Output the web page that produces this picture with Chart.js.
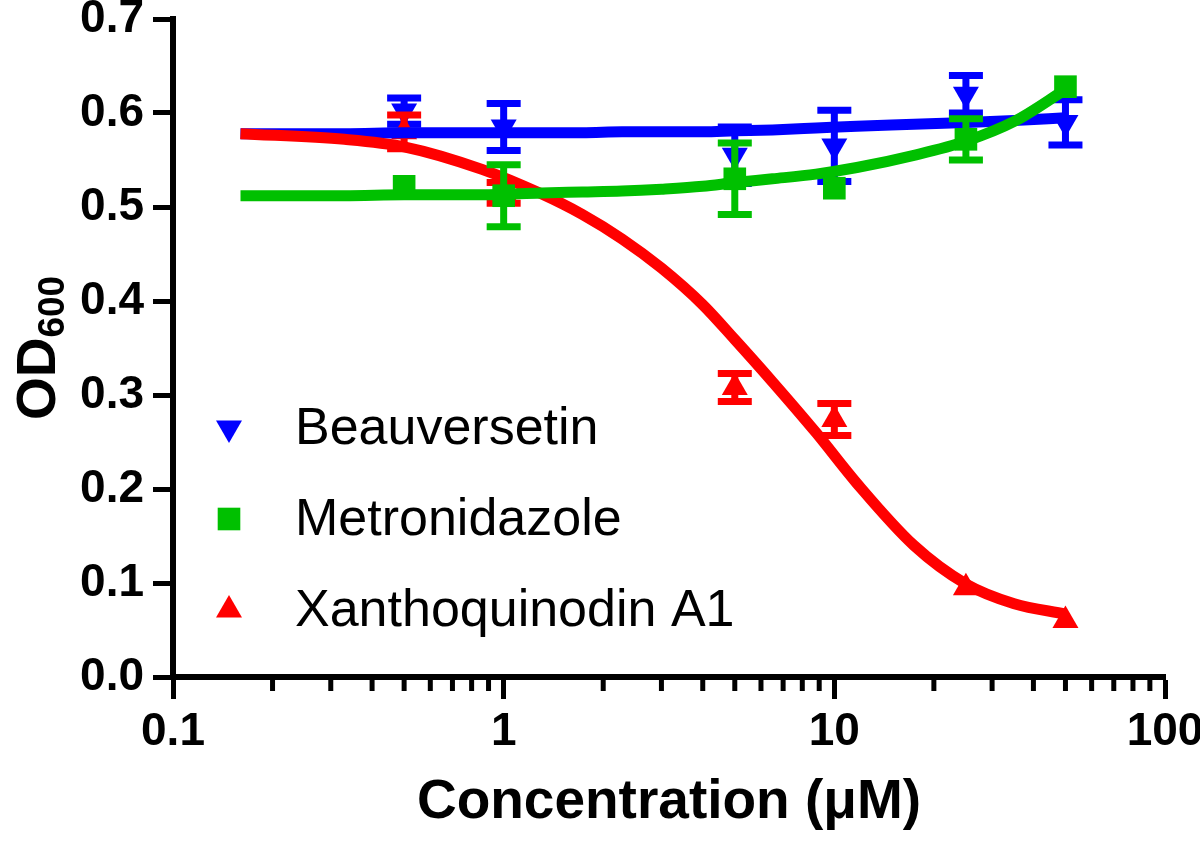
<!DOCTYPE html>
<html>
<head>
<meta charset="utf-8">
<script src="https://cdn.jsdelivr.net/npm/chart.js@4.4.0/dist/chart.umd.min.js"></script>
<style>
  html, body { margin: 0; padding: 0; background: #fff; }
  #wrap { width: 1200px; height: 841px; }
</style>
</head>
<body>
<div id="wrap"><canvas id="odChart"></canvas></div>
<script>
const concentrations = [0.5, 1, 5, 10, 25, 50];

const beauversetin = [0.602, 0.585, 0.555, 0.565, 0.62, 0.59];
const beauversetinErr = [0.014, 0.025, 0.03, 0.038, 0.02, 0.024];
const metronidazole = [0.522, 0.512, 0.53, 0.52, 0.572, 0.628];
const metronidazoleErr = [0, 0.033, 0.038, 0, 0.022, 0];
const xanthoquinodin = [0.58, 0.515, 0.308, 0.274, 0.095, 0.06];
const xanthoquinodinErr = [0.018, 0.011, 0.015, 0.017, 0, 0];

// fitted curves
const fitConc = [0.16, 0.33, 0.5, 0.86, 1.3, 1.73, 2.28, 3.0, 4.0, 5.0, 6.5, 8.8, 11.7, 17.4, 25, 35, 50];
const beauFit = [0.578, 0.578, 0.579, 0.579, 0.579, 0.579, 0.58, 0.58, 0.58, 0.581, 0.582, 0.584, 0.586, 0.588, 0.59, 0.592, 0.595];
const metroFit = [0.512, 0.512, 0.513, 0.513, 0.515, 0.516, 0.517, 0.519, 0.522, 0.526, 0.53, 0.535, 0.542, 0.555, 0.57, 0.591, 0.625];
const xanthoFit = [0.578, 0.572, 0.564, 0.54, 0.514, 0.492, 0.466, 0.435, 0.396, 0.359, 0.314, 0.26, 0.206, 0.14, 0.099, 0.078, 0.067];

const seriesNames = ['Beauversetin', 'Metronidazole', 'Xanthoquinodin A1'];
const seriesColors = ['#0000ff', '#00c000', '#ff0000'];
const xMajorTicks = [0.1, 1, 10, 100];

const FONT = "'Liberation Sans', Arial, sans-serif";
Chart.defaults.font.family = FONT;
Chart.defaults.color = '#000';

function pts(xs, ys) {
  return xs.map((x, i) => ({ x: x, y: ys[i] }));
}

const markers = [
  { style: 'triangle', rotation: 180, radius: 15 },
  { style: 'rect', rotation: 0, radius: 16 },
  { style: 'triangle', rotation: 0, radius: 15 }
];

// error bars, drawn just before their points
const errorBars = {
  id: 'errorBars',
  beforeDatasetDraw(chart, args) {
    const ds = chart.data.datasets[args.index];
    if (!ds.errors) return;
    const { ctx, scales: { x, y } } = chart;
    ctx.save();
    ctx.strokeStyle = ds.backgroundColor;
    ctx.lineWidth = 7;
    ds.data.forEach((p, i) => {
      const e = ds.errors[i];
      if (!e) return;
      const px = x.getPixelForValue(p.x);
      const top = y.getPixelForValue(p.y + e);
      const bot = y.getPixelForValue(p.y - e);
      ctx.beginPath();
      ctx.moveTo(px, top); ctx.lineTo(px, bot);
      ctx.moveTo(px - 17, top); ctx.lineTo(px + 17, top);
      ctx.moveTo(px - 17, bot); ctx.lineTo(px + 17, bot);
      ctx.stroke();
    });
    ctx.restore();
  }
};

// short ticks between the decades
const minorTicks = {
  id: 'minorTicks',
  afterDraw(chart) {
    const { ctx, scales: { x }, chartArea } = chart;
    ctx.save();
    ctx.strokeStyle = '#000';
    ctx.lineWidth = 5;
    for (let d = 0; d < xMajorTicks.length - 1; d++) {
      for (let m = 2; m <= 9; m++) {
        const px = x.getPixelForValue(xMajorTicks[d] * m);
        ctx.beginPath();
        ctx.moveTo(px, chartArea.bottom);
        ctx.lineTo(px, chartArea.bottom + 14);
        ctx.stroke();
      }
    }
    ctx.restore();
  }
};

// y title with subscript
const yTitle = {
  id: 'yTitle',
  afterDraw(chart) {
    const { ctx, chartArea } = chart;
    const main = 'OD', sub = '600';
    ctx.save();
    ctx.fillStyle = '#000';
    ctx.textBaseline = 'alphabetic';
    ctx.font = 'bold 55px ' + FONT;
    const w1 = ctx.measureText(main).width;
    ctx.font = 'bold 37px ' + FONT;
    const w2 = ctx.measureText(sub).width;
    const cy = (chartArea.top + chartArea.bottom) / 2;
    ctx.translate(55, cy);
    ctx.rotate(-Math.PI / 2);
    const start = -(w1 + w2) / 2;
    ctx.font = 'bold 55px ' + FONT;
    ctx.fillText(main, start, 0);
    ctx.font = 'bold 37px ' + FONT;
    ctx.fillText(sub, start + w1, 9);
    ctx.restore();
  }
};

const legendBox = {
  id: 'legendBox',
  afterDraw(chart) {
    const { ctx } = chart;
    ctx.save();
    seriesNames.forEach((name, i) => {
      const y = 428 + i * 91;
      ctx.fillStyle = seriesColors[i];
      Chart.helpers.drawPoint(ctx, {
        pointStyle: markers[i].style,
        rotation: markers[i].rotation,
        radius: markers[i].radius,
        borderWidth: 0
      }, 229, y);
      ctx.fillStyle = '#000';
      ctx.font = '52px ' + FONT;
      ctx.textBaseline = 'middle';
      ctx.fillText(name, 295, y + 2);
    });
    ctx.restore();
  }
};

function curve(data, color, order) {
  return {
    data: data, showLine: true, pointRadius: 0, borderColor: color,
    borderWidth: 11, cubicInterpolationMode: 'monotone', order: order
  };
}

function points(data, errors, i, order) {
  return {
    data: data, errors: errors, showLine: false,
    backgroundColor: seriesColors[i], borderWidth: 0,
    pointStyle: markers[i].style, rotation: markers[i].rotation,
    pointRadius: markers[i].radius, order: order
  };
}

const datasets = [
  points(pts(concentrations, metronidazole), metronidazoleErr, 1, 1),
  curve(pts(fitConc, metroFit), seriesColors[1], 2),
  curve(pts(fitConc, xanthoFit), seriesColors[2], 3),
  curve(pts(fitConc, beauFit), seriesColors[0], 4),
  points(pts(concentrations, xanthoquinodin), xanthoquinodinErr, 2, 5),
  points(pts(concentrations, beauversetin), beauversetinErr, 0, 6)
];

new Chart(document.getElementById('odChart').getContext('2d'), {
  type: 'scatter',
  data: { datasets: datasets },
  options: {
    responsive: true,
    maintainAspectRatio: false,
    animation: false,
    layout: { padding: { top: 19, right: 35, bottom: 0, left: 0 } },
    plugins: { legend: { display: false }, tooltip: { enabled: false } },
    scales: {
      x: {
        type: 'logarithmic',
        min: 0.1, max: 100,
        afterBuildTicks: (s) => { s.ticks = xMajorTicks.map(v => ({ value: v })); },
        afterFit: (s) => { s.height = 164; s.paddingLeft = 0; s.paddingRight = 0; },
        border: { display: true, color: '#000', width: 6 },
        grid: { drawOnChartArea: false, tickLength: 22, tickWidth: 5, tickColor: '#000' },
        ticks: {
          autoSkip: false, maxRotation: 0, padding: 6,
          font: { size: 46, weight: 'bold' },
          callback: (v) => String(v)
        },
        title: {
          display: true, text: 'Concentration (μM)',
          font: { size: 55, weight: 'bold' },
          padding: { top: 0, bottom: 5 }
        }
      },
      y: {
        min: 0, max: 0.7,
        afterFit: (s) => { s.width = 173; s.paddingTop = 0; s.paddingBottom = 0; },
        border: { display: true, color: '#000', width: 6 },
        grid: { drawOnChartArea: false, tickLength: 20, tickWidth: 5, tickColor: '#000' },
        ticks: {
          stepSize: 0.1, padding: 9,
          font: { size: 46, weight: 'bold' },
          callback: (v) => v.toFixed(1)
        }
      }
    }
  },
  plugins: [errorBars, minorTicks, yTitle, legendBox]
});
</script>
</body>
</html>
